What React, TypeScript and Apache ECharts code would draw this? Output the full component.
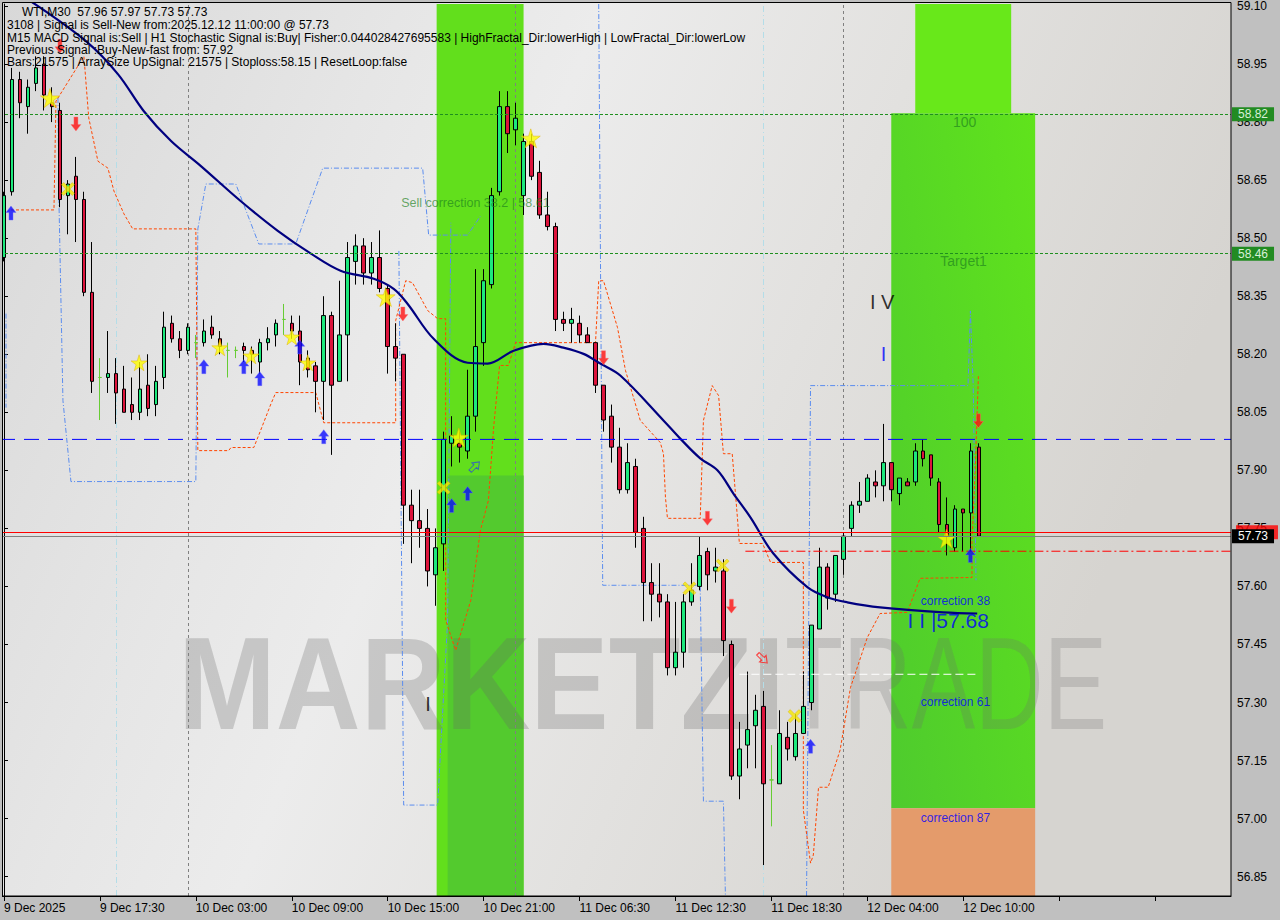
import React, { useEffect, useRef } from 'react';
import * as echarts from 'echarts';

// ---------- DATA ----------
const slotCount = 154;
const tickStep = 12;
const tickLabels = ['9 Dec 2025', '9 Dec 17:30', '10 Dec 03:00', '10 Dec 09:00', '10 Dec 15:00', '10 Dec 21:00', '11 Dec 06:30', '11 Dec 12:30', '11 Dec 18:30', '12 Dec 04:00', '12 Dec 10:00'];
const yTicks = [56.85, 57.0, 57.15, 57.3, 57.45, 57.6, 57.75, 57.9, 58.05, 58.2, 58.35, 58.5, 58.65, 58.8, 58.95, 59.1];

const opens = [58.45, 58.62, 58.91, 58.84, 58.90, 58.95, 58.85, 58.83, 58.61, 58.66, 58.60, 58.36, 58.14, 58.14, 58.15, 58.11, 58.07, 58.05, 58.12, 58.07, 58.14, 58.28, 58.24, 58.21, 58.23, 58.23, 58.27, 58.24, 58.21, 58.21, 58.22, 58.21, 58.18, 58.23, 58.25, 58.29, 58.28, 58.26, 58.19, 58.17, 58.13, 58.30, 58.13, 58.25, 58.44, 58.48, 58.41, 58.45, 58.37, 58.22, 58.20, 57.81, 57.77, 57.75, 57.63, 57.71, 57.97, 57.97, 57.95, 58.04, 58.23, 58.38, 58.62, 58.84, 58.78, 58.61, 58.75, 58.67, 58.56, 58.53, 58.29, 58.28, 58.28, 58.25, 58.23, 58.12, 58.04, 57.96, 57.85, 57.91, 57.75, 57.61, 57.58, 57.56, 57.39, 57.43, 57.56, 57.60, 57.69, 57.64, 57.64, 57.45, 57.11, 57.19, 57.24, 57.29, 57.10, 57.09, 57.21, 57.16, 57.22, 57.30, 57.49, 57.65, 57.58, 57.67, 57.75, 57.81, 57.82, 57.87, 57.86, 57.92, 57.84, 57.87, 57.87, 57.95, 57.94, 57.87, 57.76, 57.70, 57.80, 57.79, 57.96];
const highs = [58.62, 58.94, 58.93, 58.91, 58.97, 58.97, 58.89, 58.85, 58.65, 58.71, 58.62, 58.49, 58.19, 58.26, 58.19, 58.17, 58.14, 58.18, 58.20, 58.17, 58.31, 58.30, 58.26, 58.28, 58.25, 58.29, 58.30, 58.26, 58.23, 58.22, 58.23, 58.22, 58.24, 58.27, 58.29, 58.33, 58.30, 58.30, 58.21, 58.18, 58.35, 58.31, 58.39, 58.49, 58.51, 58.50, 58.49, 58.52, 58.38, 58.28, 58.20, 57.85, 57.85, 57.80, 57.75, 58.00, 58.04, 58.00, 58.16, 58.42, 58.42, 58.63, 58.88, 58.88, 58.85, 58.77, 58.77, 58.70, 58.62, 58.54, 58.31, 58.32, 58.30, 58.27, 58.23, 58.12, 58.07, 58.01, 57.97, 57.93, 57.78, 57.66, 57.66, 57.58, 57.56, 57.58, 57.66, 57.73, 57.70, 57.70, 57.67, 57.46, 57.25, 57.38, 57.32, 57.33, 57.19, 57.28, 57.25, 57.27, 57.38, 57.50, 57.70, 57.66, 57.68, 57.74, 57.82, 57.87, 57.89, 57.90, 58.02, 57.92, 57.88, 57.88, 57.97, 57.98, 57.94, 57.88, 57.83, 57.81, 57.80, 57.97, 57.97];
const lows = [58.44, 58.61, 58.81, 58.77, 58.88, 58.83, 58.80, 58.58, 58.51, 58.49, 58.35, 58.10, 58.03, 58.10, 58.02, 58.05, 58.03, 58.03, 58.04, 58.04, 58.11, 58.23, 58.19, 58.20, 58.19, 58.22, 58.24, 58.20, 58.14, 58.19, 58.18, 58.15, 58.15, 58.21, 58.22, 58.25, 58.24, 58.12, 58.14, 58.05, 58.03, 57.94, 58.13, 58.13, 58.38, 58.38, 58.38, 58.36, 58.15, 58.13, 57.71, 57.66, 57.70, 57.60, 57.55, 57.64, 57.91, 57.92, 57.93, 58.00, 58.17, 58.37, 58.61, 58.72, 58.74, 58.56, 58.65, 58.55, 58.52, 58.26, 58.26, 58.23, 58.23, 58.23, 58.10, 58.00, 57.92, 57.84, 57.84, 57.70, 57.51, 57.51, 57.52, 57.37, 57.37, 57.39, 57.55, 57.59, 57.59, 57.61, 57.42, 57.10, 57.05, 57.13, 57.13, 56.88, 56.98, 57.09, 57.15, 57.15, 57.22, 57.28, 57.49, 57.54, 57.56, 57.63, 57.73, 57.79, 57.82, 57.83, 57.82, 57.82, 57.81, 57.86, 57.86, 57.91, 57.86, 57.74, 57.68, 57.69, 57.69, 57.69, 57.73];
const closes = [58.61, 58.91, 58.85, 58.89, 58.94, 58.87, 58.84, 58.60, 58.64, 58.60, 58.36, 58.13, 58.14, 58.15, 58.10, 58.05, 58.05, 58.11, 58.06, 58.13, 58.27, 58.24, 58.21, 58.27, 58.23, 58.26, 58.25, 58.22, 58.21, 58.21, 58.21, 58.20, 58.23, 58.24, 58.28, 58.29, 58.26, 58.18, 58.16, 58.13, 58.30, 58.12, 58.25, 58.45, 58.48, 58.41, 58.45, 58.37, 58.22, 58.19, 57.81, 57.77, 57.75, 57.64, 57.70, 57.98, 57.99, 57.96, 58.04, 58.22, 58.39, 58.61, 58.84, 58.77, 58.81, 58.75, 58.66, 58.56, 58.53, 58.29, 58.28, 58.29, 58.25, 58.23, 58.12, 58.03, 57.96, 57.85, 57.92, 57.74, 57.61, 57.58, 57.56, 57.39, 57.43, 57.56, 57.59, 57.68, 57.63, 57.65, 57.46, 57.11, 57.18, 57.23, 57.28, 57.09, 57.10, 57.22, 57.18, 57.22, 57.29, 57.50, 57.65, 57.57, 57.68, 57.73, 57.81, 57.82, 57.88, 57.86, 57.92, 57.85, 57.88, 57.86, 57.95, 57.93, 57.88, 57.76, 57.73, 57.80, 57.79, 57.95, 57.73];

// moving average: [bar, price]
const maCurve = [[3.5, 59.11], [10.25, 59.009], [14.25, 58.924], [17.5, 58.828], [20.9, 58.751], [24.6, 58.687], [29.6, 58.596], [34.25, 58.519], [38.4, 58.46], [42.1, 58.416], [46.25, 58.395], [48.75, 58.369], [50.5, 58.33], [53.75, 58.24], [58, 58.178], [60.5, 58.176], [63.75, 58.209], [67.5, 58.227], [70, 58.217], [72.5, 58.201], [74.6, 58.176], [77.1, 58.145], [82.5, 58.029], [84.6, 57.982], [87.1, 57.931], [89.25, 57.9], [91.25, 57.84], [93.4, 57.778], [96.25, 57.685], [100.5, 57.598], [103, 57.572], [105.5, 57.559], [109.6, 57.546], [117.5, 57.533], [121.75, 57.53]];

// orange trailing line: [bar, price]
const trailLine = [[0.875, 58.573], [6.25, 58.573], [6.5, 58.854], [10, 58.97], [10.6, 58.811], [11.75, 58.699], [13, 58.681], [13.75, 58.622], [15, 58.563], [16.1, 58.524], [24, 58.524], [24.25, 57.951], [28.1, 57.951], [28.4, 57.959], [31.25, 57.959], [32.1, 58.003], [33.4, 58.072], [34, 58.101], [39, 58.101], [40, 58.023], [49, 58.023], [49, 58.287], [50.25, 58.39], [51.1, 58.385], [53, 58.313], [54.25, 58.292], [55.25, 58.292], [55.25, 57.513], [56.5, 57.435], [58.4, 57.564], [59.6, 57.745], [60.6, 57.822], [61.25, 58.01], [62, 58.171], [63.1, 58.171], [64, 58.23], [74, 58.23], [74.4, 58.39], [75, 58.39], [76.75, 58.269], [77.75, 58.158], [79.6, 58.029], [82.1, 57.972], [82.5, 57.943], [82.75, 57.83], [83, 57.776], [87.1, 57.776], [87.5, 58.029], [88.6, 58.119], [89.4, 58.093], [90, 57.943], [91.1, 57.943], [91.75, 57.778], [92, 57.711], [94.9, 57.711], [95.9, 57.662], [100, 57.662], [100, 57.022], [100.9, 56.885], [101.25, 56.906], [101.9, 57.081], [103.1, 57.081], [104.6, 57.177], [105.9, 57.339], [108, 57.468], [109.6, 57.53], [113, 57.533], [114.6, 57.621], [121.1, 57.623], [121.1, 57.719], [121.5, 57.899], [121.9, 58.144]];

// fractal step lines: [bar, price]
const fractalA = [[6.75, 58.862], [6.875, 58.596], [7.375, 58.08], [8.375, 57.871], [24, 57.871], [24.25, 58.524], [25.25, 58.64], [29, 58.64], [31.875, 58.485], [36.5, 58.485], [39.875, 58.681], [52.375, 58.681], [53.125, 58.508], [58, 58.508], [59.6, 58.557]];
const fractalB = [[49.4, 58.467], [50, 57.035], [54.25, 57.035], [55.5, 57.513], [55.9, 58.54]];
const fractalC = [[74.4, 59.105], [74.9, 57.603], [87.1, 57.603], [87.5, 57.045], [90, 57.045], [90.25, 56.8]];
const fractalD = [[100.4, 56.8], [100.9, 58.119], [120.6, 58.119], [120.9, 58.312], [121.25, 58.119], [121.6, 57.616]];
const fractalE = [[0.25, 58.305], [0.25, 58.062]];

// zones: bar start, bar end, low price, high price
const zoneStart = [54.125, 55.5, 114, 111, 111];
const zoneEnd = [65, 65, 126, 129, 129];
const zoneLow = [56.8, 56.8, 58.823, 57.027, 56.8];
const zoneHigh = [59.105, 57.887, 59.105, 58.823, 57.027];

// price levels
const targetLevels = [58.82, 58.46];
const signalLevel = 57.98;
const askLevel = 57.74;
const bidLevel = 57.73;
const stopDash = { from: 92.75, price: 57.691 };
const whiteDash = { from: 92, to: 122, price: 57.373 };
const separatorBars = [23, 64, 105];
const cyanBars = [14, 95];

// signals: [bar, price]
const upArrows = [[0.875, 58.565], [25, 58.168], [30, 58.168], [32, 58.137], [37, 58.219], [40, 57.987], [56, 57.809], [58, 57.84], [100.9, 57.187], [120.9, 57.68]];
const downArrows = [[7, 58.996], [9, 58.795], [49.9, 58.304], [75, 58.191], [88, 57.776], [91, 57.549], [121.9, 58.028]];
const bigStars = [[5.75, 58.862], [47.75, 58.348], [56.9, 57.985], [65.9, 58.758], [117.9, 57.724]];
const smallStars = [[16.9, 58.178], [27, 58.217], [30.9, 58.196], [36, 58.245], [38, 58.178]];
const crosses = [[8, 58.627], [55, 57.855], [85.75, 57.595], [89.9, 57.654], [98.9, 57.265]];
const hollowUp = [[58.9, 57.91]];
const hollowDown = [[94.9, 57.414]];

const chartTexts = ['Sell correction 38.2 | 58.61', '100', 'Target1', 'correction 38', 'I I |57.68', 'correction 61', 'correction 87', 'I V', 'I', 'I'];
const chartTextBars = [49.75, 120.25, 120.1, 114.75, 113.1, 114.75, 114.75, 108.4, 110.1, 53.1];
const chartTextPrices = [58.59, 58.80, 58.44, 57.56, 57.51, 57.30, 57.00, 58.335, 58.20, 57.295];

const headerLines = [
  'WTI,M30  57.96 57.97 57.73 57.73',
  '3108 | Signal is Sell-New from:2025.12.12 11:00:00 @ 57.73',
  'M15 MACD Signal is:Sell | H1 Stochastic Signal is:Buy| Fisher:0.044028427695583 | HighFractal_Dir:lowerHigh | LowFractal_Dir:lowerLow',
  'Previous Signal :Buy-New-fast from: 57.92',
  'Bars:21575 | ArraySize UpSignal: 21575 | Stoploss:58.15 | ResetLoop:false',
];

// ---------- STYLES ----------
const FONT = '"Liberation Sans", Arial, sans-serif';
const arrowPath = 'path://M5 0 L10 6 L7 6 L7 13 L3 13 L3 6 L0 6 Z';
const starPath = 'path://M50 0 L61 35 L98 35 L68 57 L79 91 L50 70 L21 91 L32 57 L2 35 L39 35 Z';
const crossPath = 'path://M0 2 L2 0 L6 4 L10 0 L12 2 L8 6 L12 10 L10 12 L6 8 L2 12 L0 10 L4 6 Z';

function levelSeries(points: number[][], color: string, dash: any, z: number) {
  return {
    type: 'line',
    xAxisIndex: 1,
    z,
    data: points,
    symbol: 'none',
    silent: true,
    color,
    itemStyle: { color },
    lineStyle: { color, type: dash, width: 1, opacity: 1 },
  };
}

function buildOption() {
  const categories = Array.from({ length: slotCount }, (_, i) => String(i));
  const candleData = opens.map((o, i) => [o, closes[i], lows[i], highs[i]]);
  const xEnd = slotCount - 0.5;

  const zoneFills: any[] = [
    '#62df1c',
    '#53ca2e',
    '#68e81a',
    { type: 'linear', x: 0, y: 1, x2: 1, y2: 0, colorStops: [{ offset: 0, color: '#4ecb2e' }, { offset: 1, color: '#60e31c' }] },
    '#e49b6b',
  ];

  const textStyles = [
    { color: 'rgba(30,130,30,0.85)', fontSize: 12.5, align: 'left' },
    { color: 'rgba(30,130,30,0.85)', fontSize: 14, align: 'center' },
    { color: 'rgba(30,130,30,0.85)', fontSize: 14, align: 'center' },
    { color: '#0000ff', fontSize: 12, align: 'left' },
    { color: '#0000ff', fontSize: 21, align: 'left' },
    { color: '#0000ff', fontSize: 12, align: 'left' },
    { color: '#0000ff', fontSize: 12, align: 'left' },
    { color: '#000000', fontSize: 20, align: 'left' },
    { color: '#0000ff', fontSize: 20, align: 'center' },
    { color: '#000000', fontSize: 20, align: 'center' },
  ];

  const fractalStyle = { color: '#5b8def', width: 1, type: [5, 2, 1, 2] };
  const fractalSeries = [fractalA, fractalB, fractalC, fractalD, fractalE].map((pts) => ({
    type: 'line',
    xAxisIndex: 1,
    data: pts,
    symbol: 'none',
    z: 4,
    lineStyle: fractalStyle,
    silent: true,
  }));

  const boxLabel = (text: string, bg: string, color: string) => ({
    show: true,
    position: 'end',
    distance: 1,
    formatter: text,
    backgroundColor: bg,
    color,
    padding: [1, 6, 1, 6],
    lineHeight: 12,
    fontFamily: FONT,
    fontSize: 12,
  });

  const graphicTexts = headerLines.map((t, i) => ({
    type: 'text',
    z: 60,
    style: {
      text: t,
      x: i === 0 ? 22 : 7,
      y: [12, 25, 37.5, 49.5, 61.5][i],
      fill: '#000',
      font: `12px ${FONT}`,
      verticalAlign: 'middle',
      textVerticalAlign: 'middle',
    },
  }));

  return {
    animation: false,
    backgroundColor: '#c0c0c0',
    grid: { left: -1, right: 49, top: 3, bottom: 24, containLabel: false },
    graphic: {
      elements: [
        {
          type: 'rect',
          z: 0,
          shape: { x: 2, y: 3, width: 1229, height: 893 },
          style: {
            fill: {
              type: 'linear', x: 0, y: 0, x2: 1, y2: 0.3,
              colorStops: [
                { offset: 0, color: '#d8d8d8' },
                { offset: 0.3, color: '#e6e6e6' },
                { offset: 0.45, color: '#ececec' },
                { offset: 0.7, color: '#e2e1df' },
                { offset: 1, color: '#d6d4d0' },
              ],
            },
          },
        },
        {
          type: 'text',
          z: 2,
          silent: true,
          x: 178,
          y: 683,
          scaleX: 0.89,
          style: { text: 'MARKETZI', x: 0, y: 0, fill: 'rgba(105,105,105,0.27)', font: `bold 132px ${FONT}`, verticalAlign: 'middle', textVerticalAlign: 'middle' },
        },
        {
          type: 'text',
          z: 2,
          silent: true,
          x: 785,
          y: 683,
          scaleX: 0.72,
          style: { text: 'TRADE', x: 0, y: 0, fill: 'rgba(110,110,110,0.24)', font: `132px ${FONT}`, verticalAlign: 'middle', textVerticalAlign: 'middle' },
        },
        { type: 'rect', z: 49, shape: { x: 0, y: 0, width: 2, height: 920 }, style: { fill: '#c0c0c0' } },
        { type: 'rect', z: 50, shape: { x: 2.5, y: 2.5, width: 1228.5, height: 893.5 }, style: { fill: null, stroke: '#000', lineWidth: 1 } },
        ...graphicTexts,
      ],
    },
    xAxis: [
      {
        type: 'category',
        data: categories,
        boundaryGap: true,
        axisLine: { show: true, lineStyle: { color: '#000', width: 1 } },
        axisTick: { show: true, interval: tickStep - 1, alignWithLabel: true, length: 5, lineStyle: { color: '#000' } },
        axisLabel: {
          interval: tickStep - 1,
          align: 'left',
          margin: 6,
          color: '#000',
          fontFamily: FONT,
          fontSize: 12,
          formatter: (_v: string, idx: number) => tickLabels[Math.round(idx / tickStep)] ?? '',
        },
        splitLine: { show: false },
      },
      { type: 'value', min: -0.5, max: xEnd, show: false },
    ],
    yAxis: {
      type: 'value',
      position: 'right',
      min: 56.8,
      max: 59.105,
      axisLine: { show: true, lineStyle: { color: '#000' } },
      axisTick: { show: true, customValues: yTicks, length: 4, lineStyle: { color: '#000' } },
      axisLabel: { customValues: yTicks, margin: 6, color: '#000', fontFamily: FONT, fontSize: 12, formatter: (v: number) => v.toFixed(2) },
      splitLine: { show: false },
    },
    series: [
      {
        type: 'custom',
        xAxisIndex: 1,
        z: 1,
        silent: true,
        clip: true,
        data: zoneStart.map((s, i) => [s, zoneEnd[i], zoneLow[i], zoneHigh[i]]),
        encode: { x: [0, 1], y: [2, 3] },
        renderItem: (params: any, api: any) => {
          const a = api.coord([api.value(0), api.value(3)]);
          const b = api.coord([api.value(1), api.value(2)]);
          return {
            type: 'rect',
            shape: { x: a[0], y: a[1], width: b[0] - a[0], height: b[1] - a[1] },
            style: { fill: zoneFills[params.dataIndex] },
          };
        },
      },
      {
        type: 'candlestick',
        xAxisIndex: 0,
        z: 5,
        barWidth: 4,
        data: candleData,
        itemStyle: {
          color: '#1de87c',
          color0: '#dc143c',
          borderColor: '#000',
          borderColor0: '#000',
          borderColorDoji: '#66cc33',
          borderWidth: 1,
        },
      },
      {
        type: 'line',
        xAxisIndex: 1,
        z: 3,
        data: [],
        silent: true,
        markLine: {
          z: 3,
          silent: true,
          symbol: ['none', 'none'],
          label: { show: false },
          data: [
            ...separatorBars.map((b) => ({ xAxis: b, lineStyle: { color: '#808080', type: [3, 3], width: 1 } })),
            ...cyanBars.map((b) => ({ xAxis: b, lineStyle: { color: '#b4dde8', type: [6, 3, 1, 3], width: 1 } })),
          ],
        },
      },
      ...fractalSeries,
      {
        type: 'line',
        xAxisIndex: 1,
        z: 4,
        data: trailLine,
        symbol: 'none',
        silent: true,
        lineStyle: { color: '#ff4500', width: 1, type: [3, 2] },
      },
      {
        type: 'line',
        xAxisIndex: 1,
        z: 6,
        data: maCurve,
        symbol: 'none',
        smooth: 0.35,
        silent: true,
        lineStyle: { color: '#000080', width: 2.2 },
      },
      levelSeries([[-0.5, signalLevel], [xEnd, signalLevel]], '#0000ff', [15, 9], 7),
      levelSeries([[stopDash.from, stopDash.price], [xEnd, stopDash.price]], '#ff0000', [9, 3, 2, 3], 7),
      levelSeries([[whiteDash.from, whiteDash.price], [whiteDash.to, whiteDash.price]], '#ffffff', [8, 4], 7),
      {
        // ask price box (mostly hidden behind the bid box)
        type: 'scatter',
        xAxisIndex: 1,
        z: 7,
        silent: true,
        clip: false,
        data: [[slotCount + 2.75, askLevel]],
        symbol: 'rect',
        symbolSize: [42, 14],
        itemStyle: { color: '#ff0000' },
      },
      {
        type: 'line',
        xAxisIndex: 1,
        z: 10,
        data: [],
        silent: true,
        markLine: {
          z: 10,
          silent: true,
          symbol: ['none', 'none'],
          animation: false,
          data: [
            ...targetLevels.map((lv) => ({ yAxis: lv, lineStyle: { color: '#1f8f1f', type: [3, 2], width: 1 }, label: boxLabel(lv.toFixed(2), '#228b22', '#d8f0d8') })),
            { yAxis: signalLevel, lineStyle: { color: '#0000ff', opacity: 0 }, label: boxLabel(signalLevel.toFixed(2), '#0000ff', '#e6e6ff') },
            { yAxis: askLevel, lineStyle: { color: '#ff0000', type: 'solid', width: 1 }, label: { show: false } },
            { yAxis: bidLevel, lineStyle: { color: '#808080', type: 'solid', width: 1 }, label: boxLabel(bidLevel.toFixed(2), '#000000', '#ffffff') },
          ],
        },
      },
      {
        type: 'scatter', xAxisIndex: 1, z: 8, silent: true, data: upArrows,
        symbol: arrowPath, symbolSize: [10, 14], itemStyle: { color: '#0a0aff', borderColor: '#6a6aff', borderWidth: 0.5 },
      },
      {
        type: 'scatter', xAxisIndex: 1, z: 8, silent: true, data: downArrows,
        symbol: arrowPath, symbolRotate: 180, symbolSize: [10, 14], itemStyle: { color: '#ff1010', borderColor: '#ff7070', borderWidth: 0.5 },
      },
      {
        type: 'scatter', xAxisIndex: 1, z: 8, silent: true, data: bigStars,
        symbol: starPath, symbolSize: 19, itemStyle: { color: '#ffff00', borderColor: '#e0b000', borderWidth: 0.6 },
      },
      {
        type: 'scatter', xAxisIndex: 1, z: 8, silent: true, data: smallStars,
        symbol: starPath, symbolSize: 16, itemStyle: { color: '#ffff00', borderColor: '#e0b000', borderWidth: 0.6 },
      },
      {
        type: 'scatter', xAxisIndex: 1, z: 8, silent: true, data: crosses,
        symbol: crossPath, symbolSize: 13, itemStyle: { color: '#f6e800', borderColor: '#d8b000', borderWidth: 0.5 },
      },
      {
        type: 'scatter', xAxisIndex: 1, z: 8, silent: true, data: hollowUp,
        symbol: arrowPath, symbolRotate: -45, symbolSize: [9, 13], itemStyle: { color: 'rgba(0,0,0,0)', borderColor: '#3050d0', borderWidth: 1 },
      },
      {
        type: 'scatter', xAxisIndex: 1, z: 8, silent: true, data: hollowDown,
        symbol: arrowPath, symbolRotate: -135, symbolSize: [9, 13], itemStyle: { color: 'rgba(0,0,0,0)', borderColor: '#ff2020', borderWidth: 1.2 },
      },
      {
        type: 'scatter',
        xAxisIndex: 1,
        z: 9,
        silent: true,
        symbolSize: 1,
        itemStyle: { color: 'rgba(0,0,0,0)' },
        data: chartTexts.map((t, i) => ({
          value: [chartTextBars[i], chartTextPrices[i]],
          label: {
            show: true,
            formatter: t,
            position: [0, 0],
            align: textStyles[i].align,
            verticalAlign: 'middle',
            color: textStyles[i].color,
            fontSize: textStyles[i].fontSize,
            fontFamily: FONT,
          },
        })),
      },
    ],
  };
}

export default function App() {
  const ref = useRef<HTMLDivElement>(null);
  useEffect(() => {
    if (!ref.current) return;
    const chart = echarts.init(ref.current, undefined, { renderer: 'svg' });
    chart.setOption(buildOption() as any);
    return () => chart.dispose();
  }, []);
  return <div ref={ref} style={{ position: 'absolute', left: 0, top: 0, width: 1280, height: 920 }} />;
}
